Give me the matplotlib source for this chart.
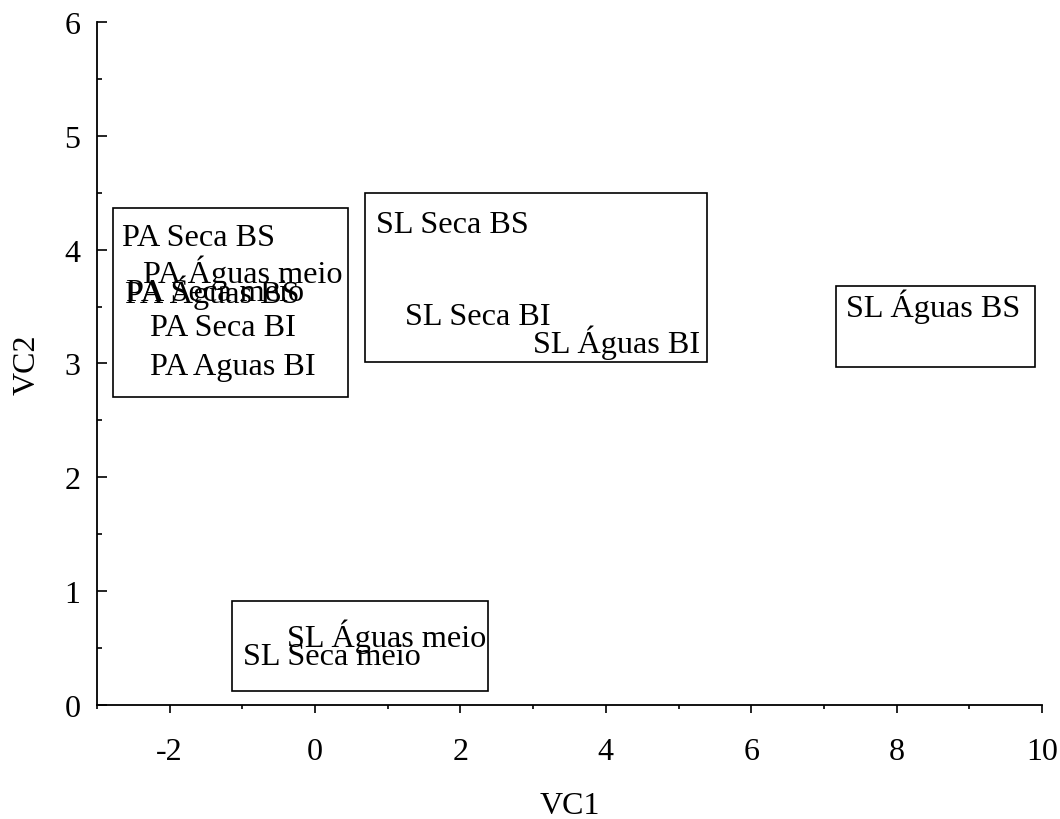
import matplotlib
matplotlib.use("Agg")
import matplotlib.pyplot as plt
from matplotlib.patches import Rectangle
from matplotlib.ticker import MultipleLocator

plt.rcParams['font.family'] = ['Liberation Serif', 'DejaVu Serif']
plt.rcParams['axes.unicode_minus'] = False

# canonical scores (label positions)
labels = ["PA Seca BS", "PA Águas meio", "PA Águas BS", "PA Seca meio",
          "PA Seca BI", "PA Aguas BI",
          "SL Seca BS", "SL Seca BI", "SL Águas BI",
          "SL Águas BS",
          "SL Águas meio", "SL Seca meio"]
vc1 = [-2.66, -2.37, -2.62, -2.60, -2.27, -2.27,
       0.84, 1.24, 3.00,
       7.30,
       -0.39, -0.99]
vc2 = [4.11, 3.81, 3.63, 3.62, 3.32, 2.97,
       4.22, 3.41, 3.19,
       3.51,
       0.61, 0.43]

# group boxes: (x0, y0, x1, y1)
boxes = [(-2.78, 2.71, 0.45, 4.37),
         (0.69, 3.01, 5.39, 4.50),
         (7.17, 2.97, 9.90, 3.68),
         (-1.14, 0.12, 2.38, 0.91)]

fig = plt.figure(figsize=(10.6, 8.2), dpi=100)
ax = fig.add_axes([0.0915, 0.139, 0.8915, 0.833])

for lab, x, y in zip(labels, vc1, vc2):
    ax.text(x, y, lab, ha='left', va='center', fontsize=23.2)

for x0, y0, x1, y1 in boxes:
    ax.add_patch(Rectangle((x0, y0), x1 - x0, y1 - y0, fill=False,
                           edgecolor='black', linewidth=1.2))

ax.set_xlim(-3, 10)
ax.set_ylim(0, 6)
ax.xaxis.set_major_locator(MultipleLocator(2))
ax.xaxis.set_minor_locator(MultipleLocator(1))
ax.yaxis.set_major_locator(MultipleLocator(1))
ax.yaxis.set_minor_locator(MultipleLocator(0.5))

for s in ['top', 'right']:
    ax.spines[s].set_visible(False)
for s in ['left', 'bottom']:
    ax.spines[s].set_linewidth(1.3)

# x ticks point down, y ticks point into the plot
ax.tick_params(which='both', width=1.2, labelsize=23)
ax.tick_params(axis='x', which='major', direction='out', length=6, pad=17)
ax.tick_params(axis='x', which='minor', direction='out', length=3.2)
ax.tick_params(axis='y', which='major', direction='in', length=7, pad=12)
ax.tick_params(axis='y', which='minor', direction='in', length=3.5)

ax.set_xlabel("VC1", fontsize=23, labelpad=18)
ax.set_ylabel("VC2", fontsize=23, labelpad=16)

fig.savefig("out.png", dpi=100)
